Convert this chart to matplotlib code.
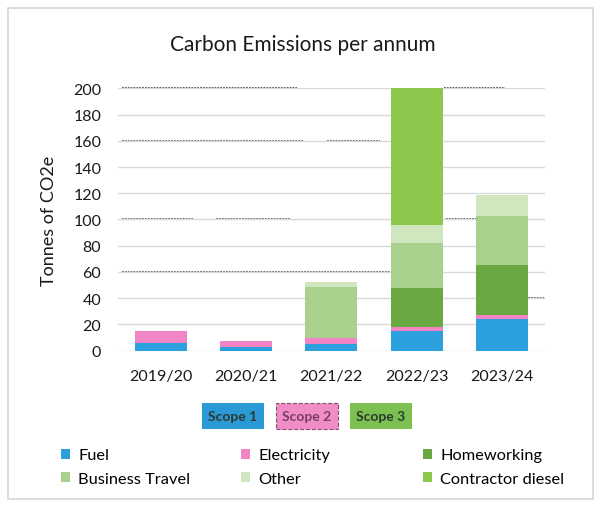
import numpy as np
import matplotlib.pyplot as plt
from matplotlib.patches import FancyBboxPatch, Rectangle

plt.rcParams['font.family'] = ['Lato', 'DejaVu Sans']

# Data (tonnes CO2e)
years = ['2019/20', '2020/21', '2021/22', '2022/23', '2023/24']
fuel = [6, 2.5, 5, 15, 24]
electricity = [9, 4.5, 4.5, 3, 3]
homeworking = [0, 0, 0, 30, 38]
business_travel = [0, 0, 39, 34, 38]
other = [0, 0, 3.5, 14, 16]
contractor_diesel = [0, 0, 0, 104, 0]

series = [
    ('Fuel', fuel, '#2ba0dc'),
    ('Electricity', electricity, '#f084c4'),
    ('Homeworking', homeworking, '#6aa842'),
    ('Business Travel', business_travel, '#a9d08d'),
    ('Other', other, '#d0e6bf'),
    ('Contractor diesel', contractor_diesel, '#8cc84b'),
]

yticks = list(range(0, 201, 20))

# scan smudges along some gridlines: (value, [(start, end) in axes fraction])
smudges = [
    (200, [(0.01, 0.42), (0.765, 0.906)]),
    (160, [(0.01, 0.433), (0.49, 0.614)]),
    (100, [(0.01, 0.176), (0.23, 0.403), (0.768, 0.843)]),
    (60, [(0.01, 0.637)]),
    (40, [(0.96, 1.0)]),
]

fig = plt.figure(figsize=(5.96, 5.06), dpi=100)
fig.patches.append(Rectangle((0.013, 0.012), 0.982, 0.970, transform=fig.transFigure,
                             fill=False, edgecolor='#d6d6d6', linewidth=1.2))

ax = fig.add_axes([0.198, 0.305, 0.716, 0.5185])

x = np.arange(len(years))
bottom = np.zeros(len(years))
for name, vals, color in series:
    ax.bar(x, vals, width=0.61, bottom=bottom, color=color, label=name, zorder=3)
    bottom += np.array(vals)

ax.set_ylim(0, 200)
ax.set_xlim(-0.5, len(years) - 0.5)
ax.set_yticks(yticks)
ax.set_xticks(x)
ax.set_xticklabels(years)
ax.tick_params(axis='both', length=0, labelsize=11.5, colors='#1a1a1a')
ax.tick_params(axis='y', pad=12)
ax.tick_params(axis='x', pad=13)
ax.grid(axis='y', color='#d9d9d9', linewidth=1, zorder=0)
for s in ax.spines.values():
    s.set_visible(False)

for val, spans in smudges:
    for a, b in spans:
        ax.axhline(val, xmin=a, xmax=b, color='#555555', linewidth=1.3,
                   linestyle=(0, (1, 0.6)), zorder=1, clip_on=False)

ax.set_ylabel('Tonnes of CO2e', fontsize=13, color='#1a1a1a', labelpad=12)
fig.text(0.508, 0.911, 'Carbon Emissions per annum', ha='center', va='center',
         fontsize=15, color='#1a1a1a')

# scope boxes
scopes = [('Scope 1', '#2a9ad6', 'none'), ('Scope 2', '#f08cc6', '#8a4f70'), ('Scope 3', '#7cc051', 'none')]
for i, (txt, c, ec) in enumerate(scopes):
    x0 = 202 + i * 74
    box = FancyBboxPatch((x0 / 596, 1 - 430 / 506), 62 / 596, 26 / 506,
                         boxstyle='square,pad=0', transform=fig.transFigure,
                         facecolor=c, edgecolor=ec, linewidth=0.8,
                         linestyle='--' if ec != 'none' else '-')
    fig.patches.append(box)
    fig.text((x0 + 31) / 596, 1 - 417 / 506, txt, ha='center', va='center',
             fontsize=10, fontweight='bold', color='#2b3a30' if i != 1 else '#7a3f62')

# legend laid out row-wise in three fixed columns
handles, labels = ax.get_legend_handles_labels()
col_x = [61, 241, 423]
for c in range(3):
    idx = [c, c + 3]
    fig.legend([handles[i] for i in idx], [labels[i] for i in idx], loc='center left',
               bbox_to_anchor=(col_x[c] / 596, 1 - 468 / 506), frameon=False,
               fontsize=11.8, handlelength=0.55, handleheight=0.55,
               handletextpad=0.5, labelspacing=0.55, borderpad=0, borderaxespad=0)

fig.savefig('out.png', dpi=100, facecolor='white')
